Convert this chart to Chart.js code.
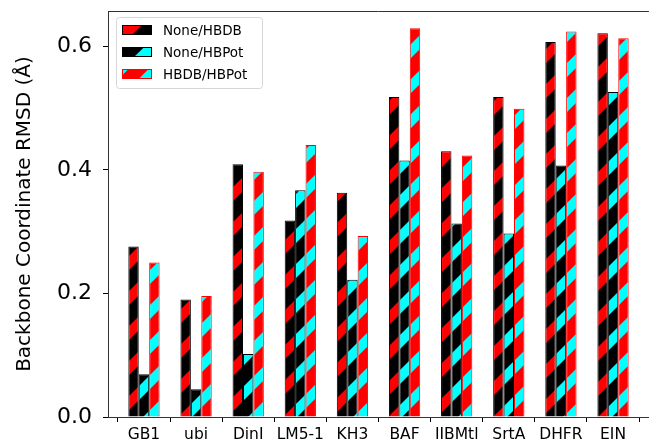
<!DOCTYPE html>
<html>
<head>
<meta charset="utf-8">
<script src="https://cdn.jsdelivr.net/npm/chart.js@4.4.1/dist/chart.umd.min.js"></script>
<style>
  html, body { margin: 0; padding: 0; background: #fff; }
  #wrap { width: 649px; height: 445px; }
</style>
</head>
<body>
<div id="wrap"><canvas id="rmsdChart"></canvas></div>
<script>
const categories = ['GB1', 'ubi', 'DinI', 'LM5-1', 'KH3', 'BAF', 'IIBMtl', 'SrtA', 'DHFR', 'EIN'];
const seriesLabels = ['None/HBDB', 'None/HBPot', 'HBDB/HBPot'];
const noneHbdb = [0.276, 0.190, 0.409, 0.318, 0.363, 0.518, 0.430, 0.518, 0.607, 0.621];
const noneHbpot = [0.069, 0.045, 0.102, 0.367, 0.222, 0.415, 0.313, 0.297, 0.407, 0.526];
const hbdbHbpot = [0.250, 0.196, 0.397, 0.440, 0.293, 0.629, 0.423, 0.499, 0.624, 0.613];
const yTicks = [0.0, 0.2, 0.4, 0.6];

const RED = '#ff0000', BLACK = '#000000', CYAN = '#00ffff';
const FONT = "'DejaVu Sans', sans-serif";

// diagonal "/" hatch tile, anchored to the canvas so stripes run on across bars
function hatch(bg, fg) {
  const P = 35, t = 14;
  const c = document.createElement('canvas');
  c.width = P; c.height = P;
  const g = c.getContext('2d');
  g.fillStyle = bg;
  g.fillRect(0, 0, P, P);
  g.fillStyle = fg;
  for (let k = 0; k <= 2; k++) {
    g.beginPath();
    g.moveTo(0, k * P);
    g.lineTo(P, k * P - P);
    g.lineTo(P, k * P - P + t);
    g.lineTo(0, k * P + t);
    g.closePath();
    g.fill();
  }
  return g.createPattern(c, 'repeat');
}

const swatches = [
  { bg: BLACK, fg: RED, edge: BLACK, bands: [[-1.2, 0.33]] },
  { bg: BLACK, fg: CYAN, edge: BLACK, bands: [[0.4, 0.92]] },
  { bg: RED, fg: CYAN, edge: RED, bands: [[-1.2, -0.12], [0.55, 1.2]] }
];

const frameAndLegend = {
  id: 'frameAndLegend',
  afterDraw(chart) {
    const ctx = chart.ctx, a = chart.chartArea;
    ctx.save();
    // top spine
    ctx.strokeStyle = '#333';
    ctx.lineWidth = 1;
    ctx.beginPath();
    ctx.moveTo(a.left, a.top + 0.5);
    ctx.lineTo(a.right, a.top + 0.5);
    ctx.stroke();

    // legend box
    const bx = a.left + 8, by = a.top + 6, bw = 146, bh = 71;
    ctx.fillStyle = 'rgba(255,255,255,0.85)';
    ctx.strokeStyle = '#d6d6d6';
    ctx.beginPath();
    ctx.roundRect(bx + 0.5, by + 0.5, bw, bh, 3);
    ctx.fill();
    ctx.stroke();

    const sw = 30, sh = 10;
    seriesLabels.forEach((lab, i) => {
      const cy = by + 13 + i * 22;
      const sx = bx + 6, sy = cy - sh / 2;
      const s = swatches[i];
      ctx.save();
      ctx.beginPath();
      ctx.rect(sx, sy, sw, sh);
      ctx.clip();
      ctx.fillStyle = s.bg;
      ctx.fillRect(sx, sy, sw, sh);
      ctx.fillStyle = s.fg;
      s.bands.forEach(([a1, a2]) => {
        const sl = 0.34 * sw;
        ctx.beginPath();
        ctx.moveTo(sx + a1 * sw, sy + sh);
        ctx.lineTo(sx + a2 * sw, sy + sh);
        ctx.lineTo(sx + a2 * sw + sl, sy);
        ctx.lineTo(sx + a1 * sw + sl, sy);
        ctx.closePath();
        ctx.fill();
      });
      ctx.restore();
      ctx.strokeStyle = s.edge;
      ctx.lineWidth = 1;
      ctx.strokeRect(sx + 0.5, sy + 0.5, sw - 1, sh - 1);
      ctx.fillStyle = '#000';
      ctx.font = '13.5px ' + FONT;
      ctx.textBaseline = 'middle';
      ctx.textAlign = 'left';
      ctx.fillText(lab, bx + 47, cy + 1);
    });
    ctx.restore();
  }
};

const toPoints = arr => arr.map((v, i) => ({ x: i, y: v }));

new Chart(document.getElementById('rmsdChart'), {
  type: 'bar',
  data: {
    datasets: [
      { label: seriesLabels[0], data: toPoints(noneHbdb), backgroundColor: hatch(BLACK, RED), borderColor: BLACK, borderWidth: 1 },
      { label: seriesLabels[1], data: toPoints(noneHbpot), backgroundColor: hatch(BLACK, CYAN), borderColor: BLACK, borderWidth: 1 },
      { label: seriesLabels[2], data: toPoints(hbdbHbpot), backgroundColor: hatch(RED, CYAN), borderColor: RED, borderWidth: 1 }
    ]
  },
  options: {
    responsive: true,
    maintainAspectRatio: false,
    animation: false,
    layout: { padding: { top: 11, right: 0, left: 0, bottom: 0 } },
    datasets: { bar: { categoryPercentage: 0.6, barPercentage: 1.0 } },
    plugins: { legend: { display: false }, tooltip: { enabled: false } },
    scales: {
      x: {
        type: 'linear',
        offset: false,
        min: -0.69,
        max: 9.69,
        afterFit: s => { s.height = 28; s.paddingLeft = 0; s.paddingRight = 0; },
        afterBuildTicks: s => { s.ticks = categories.map((_, i) => ({ value: i })); },
        ticks: {
          callback: v => categories[v],
          color: '#000',
          font: { family: FONT, size: 15.5 },
          padding: 4,
          maxRotation: 0,
          autoSkip: false
        },
        grid: { drawOnChartArea: false, drawTicks: true, tickLength: 5, tickColor: '#000' },
        border: { display: true, color: '#333', width: 1 }
      },
      y: {
        min: 0,
        max: 0.657,
        afterFit: s => { s.width = 108; s.paddingTop = 0; s.paddingBottom = 0; },
        afterBuildTicks: s => { s.ticks = yTicks.map(v => ({ value: v })); },
        ticks: {
          callback: v => v.toFixed(1),
          color: '#000',
          font: { family: FONT, size: 22 },
          padding: 11
        },
        grid: { drawOnChartArea: false, drawTicks: true, tickLength: 5, tickColor: '#000' },
        border: { display: true, color: '#333', width: 1 },
        title: {
          display: true,
          text: 'Backbone Coordinate RMSD (Å)',
          color: '#000',
          font: { family: FONT, size: 20 },
          padding: { top: 13, bottom: 0 }
        }
      }
    }
  },
  plugins: [frameAndLegend]
});
</script>
</body>
</html>
